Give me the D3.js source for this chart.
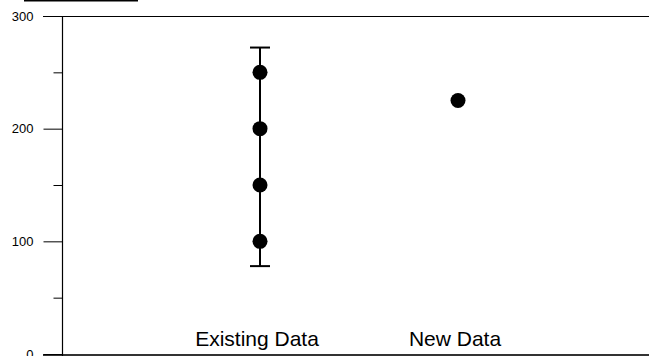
<!DOCTYPE html>
<html>
<head>
<meta charset="utf-8">
<script src="https://cdn.jsdelivr.net/npm/d3@7"></script>
<style>
html,body{margin:0;padding:0;background:#fff;}
svg{display:block;}
</style>
</head>
<body>
<svg id="chart" width="649" height="356"></svg>
<script>
const categories = ["Existing Data", "New Data"];
const existingValues = [100, 150, 200, 250];
const existingError = {low: 78, high: 272};
const newValues = [225];
const majorTicks = [0, 100, 200, 300];
const minorTicks = [50, 150, 250];

const svg = d3.select("#chart");
const font = "Arial, 'Liberation Sans', sans-serif";

const y = d3.scaleLinear().domain([0, 300]).range([354, 16]);
const x = d3.scaleLinear().domain([0, 3]).range([62, 656]);

// decoration line top-left
svg.append("line").attr("x1", 24).attr("x2", 138).attr("y1", 0.75).attr("y2", 0.75)
  .attr("stroke", "#000").attr("stroke-width", 1.5);

// top & bottom frame lines
svg.append("line").attr("x1", 43).attr("x2", 649).attr("y1", y(300) + 0.5).attr("y2", y(300) + 0.5)
  .attr("stroke", "#000").attr("stroke-width", 1.2);
svg.append("line").attr("x1", 43).attr("x2", 649).attr("y1", y(0) + 1).attr("y2", y(0) + 1)
  .attr("stroke", "#333").attr("stroke-width", 2);

// y axis
const yAxis = d3.axisLeft(y).tickValues(majorTicks).tickSize(19).tickPadding(10)
  .tickFormat(d3.format("d"));
const gy = svg.append("g").attr("transform", "translate(62.5,0)").call(yAxis);
gy.select(".domain").remove();
gy.selectAll(".tick line").attr("stroke", "#000").attr("stroke-width", 1);
gy.selectAll(".tick text").attr("font-family", font).attr("font-size", 13).attr("fill", "#000");
svg.append("line").attr("x1", 62.5).attr("x2", 62.5).attr("y1", y(300)).attr("y2", y(0) + 2)
  .attr("stroke", "#000").attr("stroke-width", 1.2);

const yMinor = d3.axisLeft(y).tickValues(minorTicks).tickSize(9).tickFormat("");
const gm = svg.append("g").attr("transform", "translate(62.5,0)").call(yMinor);
gm.select(".domain").remove();
gm.selectAll(".tick line").attr("stroke", "#000").attr("stroke-width", 1);

// error bar for existing data
const ex = x(1);
const eb = svg.append("g").attr("stroke", "#000").attr("stroke-width", 2);
eb.append("line").attr("x1", ex).attr("x2", ex).attr("y1", y(existingError.high)).attr("y2", y(existingError.low));
eb.append("line").attr("x1", ex - 10).attr("x2", ex + 10).attr("y1", y(existingError.high)).attr("y2", y(existingError.high));
eb.append("line").attr("x1", ex - 10).attr("x2", ex + 10).attr("y1", y(existingError.low)).attr("y2", y(existingError.low));

// points
svg.selectAll("circle.ex").data(existingValues).enter().append("circle")
  .attr("cx", ex).attr("cy", d => y(d)).attr("r", 7.5).attr("fill", "#000");
svg.selectAll("circle.nw").data(newValues).enter().append("circle")
  .attr("cx", x(2)).attr("cy", d => y(d)).attr("r", 7.5).attr("fill", "#000");

// category labels
svg.selectAll("text.cat").data(categories).enter().append("text")
  .attr("x", (d, i) => x(i + 1) - 3).attr("y", 346)
  .attr("text-anchor", "middle").attr("font-family", font).attr("font-size", 21)
  .attr("fill", "#000").text(d => d);
</script>
</body>
</html>
